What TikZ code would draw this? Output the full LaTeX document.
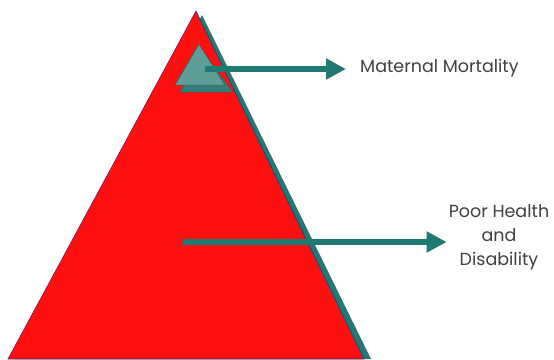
\documentclass[tikz,border=0pt]{standalone}
\usepackage{fontspec}
\setmainfont{Poppins}
\usetikzlibrary{arrows.meta, positioning}

\definecolor{pyrred}{HTML}{FF1010}
\definecolor{pyredge}{HTML}{3A2F7A}
\definecolor{tealdark}{HTML}{1F7A74}
\definecolor{teallight}{HTML}{5F9E96}
\definecolor{tealshade}{HTML}{2F8079}

\begin{document}
\begin{tikzpicture}[
    x=1pt, y=-1pt,
    pointer/.style={draw=tealdark, line width=6pt,
                    -{Triangle[length=20pt, width=20pt]}},
    label/.style={font=\fontsize{17.5}{24}\selectfont, text=black!75,
                  align=center, inner sep=0pt}
  ]
  \useasboundingbox (0,0) rectangle (554,359);

  % pyramid with its shadow
  \fill[tealdark] (202,15) -- (371,359) -- (14,359) -- cycle;
  \filldraw[fill=pyrred, draw=pyredge, line width=0.6pt]
    (196,11) -- (364,359) -- (8,359) -- cycle;

  % small triangle at the top
  \filldraw[fill=tealshade, draw=black!70, line width=0.5pt]
    (204,52) -- (233,92) -- (180,92) -- cycle;
  \filldraw[fill=teallight, draw=black!70, line width=0.5pt]
    (199,44) -- (225,85) -- (175,85) -- cycle;

  % labels
  \node[label, anchor=west] (mortality) at (360,68) {Maternal Mortality};
  \node[label] (health) at (499,237) {Poor Health\\and\\Disability};

  % arrows
  \coordinate (topStart) at (205,69);
  \coordinate (midStart) at (183,242);
  \draw[pointer] (topStart) -- ([xshift=-14pt]mortality.west |- topStart);
  \draw[pointer] (midStart) -- ([xshift=-2pt]health.west |- midStart);
\end{tikzpicture}
\end{document}
